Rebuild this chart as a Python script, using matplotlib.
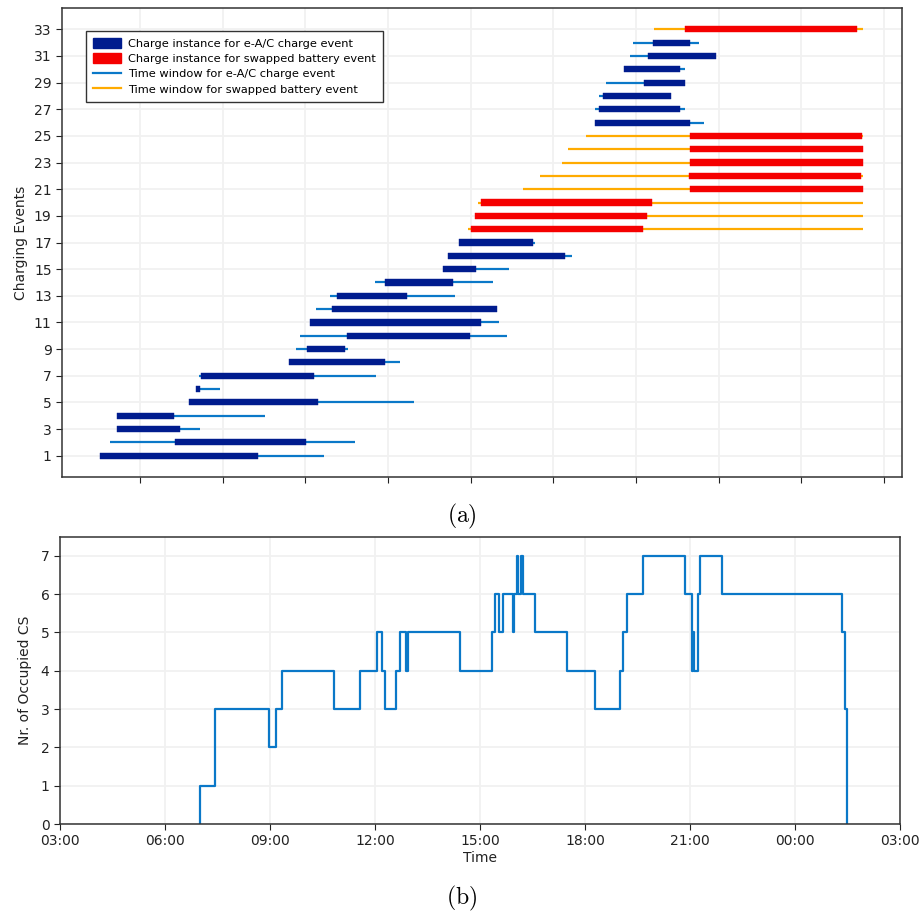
import datetime as dt
import matplotlib
matplotlib.use("Agg")
import matplotlib.pyplot as plt
import matplotlib.dates as mdates
from matplotlib.patches import Patch
from matplotlib.lines import Line2D

# ---------------- data (hours of day; >24 means next day) ----------------
event_ids = list(range(1, 34))
event_type = ["ac"] * 17 + ["swap"] * 8 + ["ac"] * 7 + ["swap"]
window_start = [7.02, 7.27, 7.45, 7.45, 9.18, 9.35, 9.43, 11.61, 11.78, 11.86, 12.11,
                12.26, 12.60, 13.69, 15.34, 15.46, 15.71, 15.93, 16.11, 16.19, 17.27,
                17.69, 18.20, 18.36, 18.78, 19.01, 19.02, 19.11, 19.27, 19.71, 19.86,
                19.94, 20.44]
charge_start = [7.02, 8.85, 7.45, 7.45, 9.18, 9.35, 9.48, 11.61, 12.03, 13.01, 12.11,
                12.64, 12.77, 13.93, 15.34, 15.46, 15.71, 16.01, 16.11, 16.24, 21.32,
                21.28, 21.32, 21.32, 21.31, 19.01, 19.11, 19.21, 20.19, 19.71, 20.29,
                20.42, 21.20]
charge_end = [10.85, 12.01, 8.97, 8.82, 12.30, 9.45, 12.21, 13.92, 12.95, 15.98, 16.26,
              16.63, 14.45, 15.57, 16.13, 18.29, 17.52, 20.16, 20.26, 20.39, 25.49,
              25.44, 25.49, 25.49, 25.46, 21.32, 21.07, 20.86, 21.20, 21.07, 21.95,
              21.32, 25.36]
window_end = [12.46, 13.20, 9.45, 11.03, 14.62, 9.94, 13.72, 14.30, 13.02, 16.87, 16.69,
              16.63, 15.62, 16.53, 16.94, 18.45, 17.55, 25.49, 25.49, 25.49, 25.49,
              25.49, 25.49, 25.49, 25.49, 21.64, 21.20, 20.86, 21.20, 21.20, 21.95,
              21.53, 25.49]

# occupancy step series (hour of change, new value)
occ_hours = [7.01, 7.01, 7.42, 8.97, 9.16, 9.33, 10.82, 11.58, 12.07, 12.20, 12.28,
             12.59, 12.72, 12.90, 12.93, 14.42, 15.34, 15.44, 15.55, 15.65, 15.95,
             15.96, 16.05, 16.10, 16.17, 16.22, 16.57, 17.49, 18.28, 19.00, 19.08,
             19.20, 19.66, 20.86, 21.06, 21.10, 21.12, 21.23, 21.30, 21.92, 25.33,
             25.42, 25.48]
occ_values = [0, 1, 3, 2, 3, 4, 3, 4, 5, 4, 3, 4, 5, 4, 5, 4, 5, 6, 5, 6, 5, 6, 7, 6,
              7, 6, 5, 4, 3, 4, 5, 6, 7, 6, 4, 5, 4, 6, 7, 6, 5, 3, 0]

legend_labels = ["Charge instance for e-A/C charge event",
                 "Charge instance for swapped battery event",
                 "Time window for e-A/C charge event",
                 "Time window for swapped battery event"]

# ---------------- styles ----------------
C_AC_BAR = "#001c8e"
C_SW_BAR = "#f50000"
C_AC_WIN = "#0a78c8"
C_SW_WIN = "#ffab00"
GRID = "#f1f1f1"
SPINE = "#333333"

fig = plt.figure(figsize=(9.24, 9.17), dpi=100)
ax1 = fig.add_axes([0.0671, 0.4798, 0.9091, 0.5115])
ax2 = fig.add_axes([0.0649, 0.1014, 0.9091, 0.3133])

# ---------------- top chart ----------------
for i, e in enumerate(event_ids):
    wc = C_AC_WIN if event_type[i] == "ac" else C_SW_WIN
    bc = C_AC_BAR if event_type[i] == "ac" else C_SW_BAR
    ax1.plot([window_start[i], window_end[i]], [e, e], color=wc, lw=1.6,
             solid_capstyle="butt", zorder=2)
    ax1.barh(e, charge_end[i] - charge_start[i], left=charge_start[i], height=0.46,
             color=bc, edgecolor=bc, linewidth=0.3, zorder=3)

ax1.set_xlim(6.11, 26.44)
ax1.set_ylim(-0.6, 34.6)
ax1.set_xticks(range(8, 27, 2))
ax1.set_xticklabels([])
ax1.set_yticks(range(1, 34, 2))
ax1.set_ylabel("Charging Events", fontsize=10, color="#222222", labelpad=4)
ax1.tick_params(axis="both", labelsize=10, colors="#222222", length=4)
ax1.grid(True, color=GRID, lw=1.3, zorder=0)
ax1.set_axisbelow(True)
for s in ax1.spines.values():
    s.set_color(SPINE)
    s.set_linewidth(1.1)

handles = [Patch(facecolor=C_AC_BAR, edgecolor=C_AC_BAR),
           Patch(facecolor=C_SW_BAR, edgecolor=C_SW_BAR),
           Line2D([], [], color=C_AC_WIN, lw=1.6),
           Line2D([], [], color=C_SW_WIN, lw=1.6)]
leg = ax1.legend(handles, legend_labels, loc="upper left",
                 bbox_to_anchor=(0.029, 0.951), borderaxespad=0, fontsize=8.2,
                 fancybox=False, framealpha=1, edgecolor="#333333",
                 handlelength=2.4, handleheight=1.0, labelspacing=0.38,
                 borderpad=0.6, handletextpad=0.7)
leg.get_frame().set_linewidth(1.0)

# ---------------- bottom chart ----------------
base = dt.datetime(2020, 1, 1)
occ_times = [base + dt.timedelta(hours=h) for h in occ_hours]
ax2.plot(occ_times, occ_values, drawstyle="steps-post", color="#0a78c8", lw=1.6)
ax2.set_xlim(base + dt.timedelta(hours=3), base + dt.timedelta(hours=27))
ax2.set_ylim(0, 7.5)
ax2.xaxis.set_major_locator(mdates.HourLocator(byhour=range(0, 24, 3)))
ax2.xaxis.set_major_formatter(mdates.DateFormatter("%H:%M"))
ax2.set_yticks(range(0, 8))
ax2.set_xlabel("Time", fontsize=10, color="#222222", labelpad=2)
ax2.set_ylabel("Nr. of Occupied CS", fontsize=10, color="#222222", labelpad=6)
ax2.tick_params(axis="both", labelsize=10, colors="#222222", length=4)
ax2.grid(True, color=GRID, lw=1.3)
ax2.set_axisbelow(True)
for s in ax2.spines.values():
    s.set_color(SPINE)
    s.set_linewidth(1.1)

# ---------------- captions ----------------
fig.text(0.5, 0.4365, r"$\mathrm{(a)}$", math_fontfamily="cm", fontsize=17,
         ha="center", va="center")
fig.text(0.5, 0.0207, r"$\mathrm{(b)}$", math_fontfamily="cm", fontsize=17,
         ha="center", va="center")

fig.savefig("out.png", dpi=100)
